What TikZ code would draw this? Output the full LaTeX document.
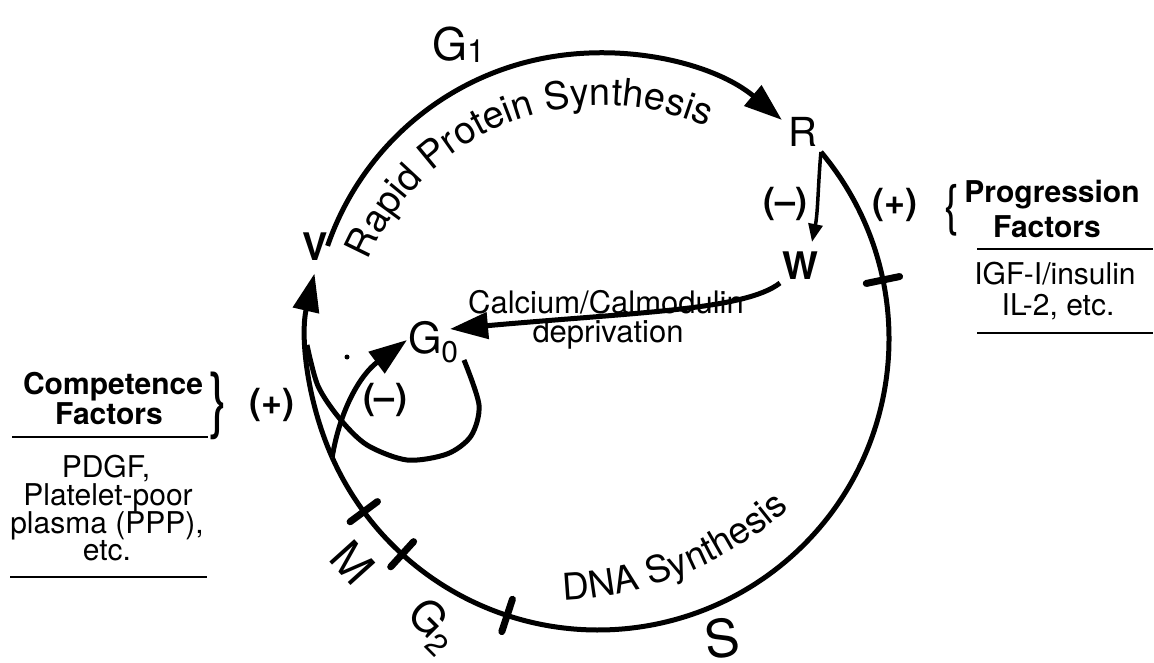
\documentclass[tikz,border=0pt]{standalone}
\usepackage{fontspec}
\setmainfont{TeX Gyre Heros}
\usetikzlibrary{arrows.meta,decorations.text,calc}
\newcommand{\fs}[1]{\fontsize{#1}{#1}\selectfont}
\begin{document}
\begin{tikzpicture}[x=1pt,y=1pt,
  cyc/.style={line width=5pt},
  big/.style={-{Triangle[length=38pt,width=26pt]}},
  lbl/.style={inner sep=0pt, outer sep=0pt},
  tickm/.style={line width=7pt, line cap=round},
  rule/.style={line width=2pt},
  bold/.style={lbl, font=\bfseries\fs{36}},
  side/.style={lbl, anchor=base, font=\fs{30}},
  sideb/.style={lbl, anchor=base, font=\bfseries\fs{30}}]
\useasboundingbox (0,0) rectangle (1154,-663);

% centre of the cycle
\coordinate (O) at (598,-339);

% labels of the cycle
\node[lbl, anchor=base west, font=\fs{45}] (G1) at (432,-61) {G{\fs{32}\raisebox{-2pt}{1}}};
\node[lbl, font=\fs{40}] (R) at (803,-132) {R};
\node[lbl, font=\bfseries\fs{38}] (V) at (315,-247) {V};
\node[lbl, font=\bfseries\fs{38}] (W) at (800,-266) {W};
\node[lbl, anchor=base west, font=\fs{43}] (G0) at (408,-353) {G{\fs{30}\raisebox{-9pt}{0}}};
\node[lbl, font=\fs{46}, rotate=-48] (M) at (353,-563) {M};
\node[lbl, font=\fs{44}, rotate=-45] (G2) at (432,-626) {G{\fs{31}\raisebox{-9pt}{2}}};
\node[lbl, font=\fs{52}, rotate=8] (S) at (722,-638) {S};

% named end points
\coordinate (vs) at ($(O)+(161:286)$);
\coordinate (rs) at ($(O)+(40:291)$);
\coordinate (jn) at ($(O)+(204:291)$);
\coordinate (g0t) at (407,-340);
\coordinate (g0s) at (464,-360);
\coordinate (wt) at (812,-242);
\coordinate (ws) at (780,-283);
\coordinate (ct) at (450,-329);

% the cycle
\draw[cyc, big] (vs) arc[start angle=161, end angle=50, radius=286];
\draw[cyc] (rs) arc[start angle=40, end angle=-156, radius=291];
\draw[cyc, big] (jn) arc[start angle=204, end angle=167, radius=291];
\draw[cyc, big] (jn) .. controls (340,-410) and (360,-375) .. (g0t);
\draw[cyc] plot[smooth] coordinates {(g0s) (479,-405) (471,-436) (447,-454) (407,-460) (367,-445) (340,-419) (318,-386) (307,-345)};
\draw[line width=3.5pt, -{Triangle[length=18pt,width=14pt]}] (rs) .. controls (818,-185) and (818,-212) .. (wt);
\draw[cyc, big] (ws) .. controls (745,-310) and (640,-312) .. (ct);

% phase boundaries
\foreach \a in {216.4,227.7,251.8,11.7}
  \draw[tickm] ($(O)+(\a:274)$) -- ($(O)+(\a:308)$);

% signs
\node[bold] (mR) at (785,-204) {(–)};
\node[bold] (pR) at (895,-205) {(+)};
\node[bold] (pL) at (272,-405) {(+)};
\node[bold] (mI) at (385,-400) {(–)};
\fill (347,-357) circle (2.5);

% arrow text
\node[lbl, anchor=base, font=\fs{31}] (ca) at (606,-313) {Calcium/Calmodulin};
\node[lbl, anchor=base, font=\fs{31}] (dep) at (608,-342) {deprivation};

% curved texts
\path[decorate, decoration={text along path, text align=left, text={|\fs{38}|Rapid Protein Synthesis}}]
  ([shift={(157:255)}]603,-360) arc[start angle=157, end angle=40, radius=255];
\path[decorate, decoration={text along path, text align=left, text={|\fs{37}|DNA Synthesis}}]
  ([shift={(-88:355)}]551,-245) arc[start angle=-88, end angle=-30, radius=355];

% competence factors
\node[sideb] (comp) at (113,-394) {Competence};
\node[sideb] (cf) at (109,-424) {Factors};
\node[lbl, font=\fs{72}] (lb) at (219,-406) {\scalebox{0.75}[1]{\}}};
\draw[rule] (12,-437) -- (208,-437);
\node[side] (l1) at (106,-477) {PDGF,};
\node[side] (l2) at (108,-505) {Platelet-poor};
\node[side] (l3) at (107,-533) {plasma (PPP),};
\node[side] (l4) at (107,-560) {etc.};
\draw[rule] (10,-577) -- (207,-577);

% progression factors
\node[lbl, font=\fs{55}] (rb) at (952,-210) {\scalebox{0.8}[1]{\{}};
\node[sideb] (prog) at (1052,-203) {Progression};
\node[sideb] (pf) at (1047,-237) {Factors};
\draw[rule] (977,-249) -- (1153,-249);
\node[side] (r1) at (1055,-284) {IGF-I/insulin};
\node[side] (r2) at (1058,-315) {IL-2, etc.};
\draw[rule] (977,-333) -- (1153,-333);
\end{tikzpicture}
\end{document}
